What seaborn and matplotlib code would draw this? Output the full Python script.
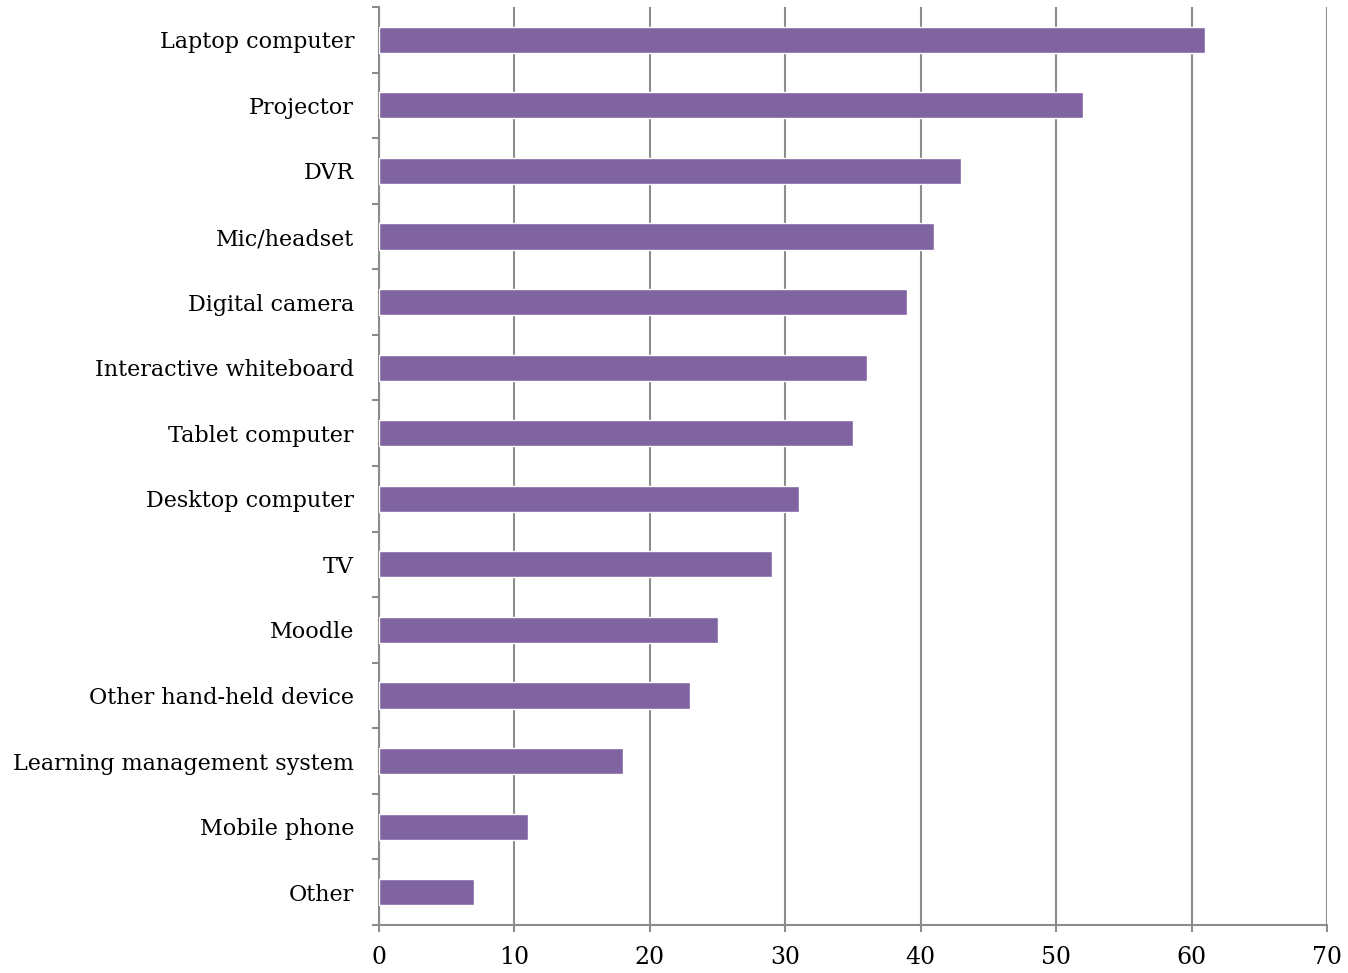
import matplotlib
matplotlib.use("Agg")
import matplotlib.pyplot as plt
import seaborn as sns
import pandas as pd
import numpy as np

categories = ["Laptop computer", "Projector", "DVR", "Mic/headset", "Digital camera",
              "Interactive whiteboard", "Tablet computer", "Desktop computer", "TV",
              "Moodle", "Other hand-held device", "Learning management system",
              "Mobile phone", "Other"]
values = [61, 52, 43, 41, 39, 36, 35, 31, 29, 25, 23, 18, 11, 7]
x_ticks = [0, 10, 20, 30, 40, 50, 60, 70]

sns.set_theme(style="white")
plt.rcParams['font.family'] = ['DejaVu Serif']

df = pd.DataFrame({"cat": categories, "val": values})

fig = plt.figure(figsize=(13.48, 9.73), dpi=100)
ax = fig.add_axes([379/1348, 1-925/973, (1327-379)/1348, (925-7)/973])
sns.barplot(data=df, y="cat", x="val", orient="h", color="#8064A2", width=0.4,
            saturation=1, ax=ax, zorder=3)

gray = "#8C8C8C"
ax.set_xlim(0, 70)
ax.set_ylim(len(categories) - 0.5, -0.5)
ax.set_xticks(x_ticks)
ax.set_xticklabels([str(t) for t in x_ticks], fontsize=17)
ax.xaxis.grid(True, color=gray, linewidth=1.5, zorder=0)
ax.yaxis.grid(False)
ax.set_xlabel("")
ax.set_ylabel("")
ax.tick_params(axis="y", which="major", length=0, labelsize=16, pad=18, colors="black")
ax.set_yticks(np.arange(-0.5, len(categories) + 0.5, 1), minor=True)
ax.tick_params(axis="y", which="minor", length=5, width=1.5, color=gray, direction="out", left=True)
ax.tick_params(axis="x", length=5, width=1.5, color=gray, direction="out", bottom=True, pad=10)
for s in ["top", "right"]:
    ax.spines[s].set_visible(False)
for s in ["left", "bottom"]:
    ax.spines[s].set_color(gray)
    ax.spines[s].set_linewidth(1.5)
for lbl in ax.get_yticklabels() + ax.get_xticklabels():
    lbl.set_color("black")

fig.savefig("out.png", dpi=100)
